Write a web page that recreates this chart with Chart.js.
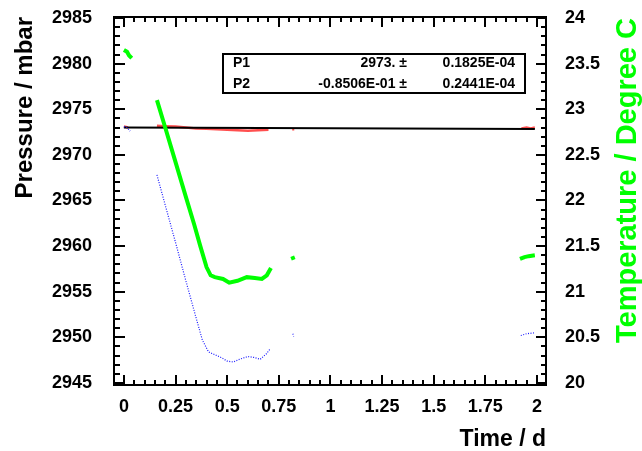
<!DOCTYPE html>
<html>
<head>
<meta charset="utf-8">
<script src="https://cdn.jsdelivr.net/npm/chart.js@4.4.1/dist/chart.umd.min.js"></script>
<style>
  body { margin: 0; background: #fff; }
  canvas { display: block; }
</style>
</head>
<body>
<canvas id="myChart" width="642" height="451"></canvas>
<script>
'use strict';

// tick labels
const timeTicks = [0, 0.25, 0.5, 0.75, 1, 1.25, 1.5, 1.75, 2];
const pressureTicks = [2945, 2950, 2955, 2960, 2965, 2970, 2975, 2980, 2985];
const tempTicks = [20, 20.5, 21, 21.5, 22, 22.5, 23, 23.5, 24];

// temperature (green, right axis) - null = gap in the record
const tempTimes = [0, 0.015, 0.025, 0.038, 0.1,
  0.16, 0.2, 0.25, 0.3, 0.34, 0.37, 0.40, 0.42, 0.44, 0.48, 0.51, 0.55, 0.595, 0.634, 0.668, 0.692, 0.712, 0.76,
  0.815, 0.822, 1.4,
  1.918, 1.94, 1.96, 1.99];
const tempValues = [23.65, 23.63, 23.59, 23.56, null,
  23.10, 22.80, 22.42, 22.04, 21.74, 21.50, 21.27, 21.18, 21.16, 21.14, 21.10, 21.12, 21.16, 21.15, 21.14, 21.18, 21.26, null,
  21.39, 21.35, null,
  21.36, 21.38, 21.39, 21.40];

// raw pressure (blue, left axis)
const rawTimes = [0, 0.015, 0.03, 0.1,
  0.16, 0.2, 0.25, 0.3, 0.35, 0.38, 0.41, 0.44, 0.47, 0.5, 0.53, 0.56, 0.6, 0.63, 0.66, 0.69, 0.71, 0.76,
  0.818, 0.822, 1.4,
  1.922, 1.95, 1.99];
const rawPressure = [2973.1, 2973.0, 2972.6, null,
  2967.8, 2964.5, 2960.4, 2956.2, 2952.1, 2949.7, 2948.4, 2948.1, 2947.8, 2947.4, 2947.3, 2947.6, 2947.9, 2947.8, 2947.6, 2948.2, 2948.8, null,
  2950.4, 2950.1, null,
  2950.2, 2950.4, 2950.5];

// temperature corrected pressure (red, left axis)
const corrTimes = [0, 0.02, 0.1,
  0.16, 0.2, 0.25, 0.3, 0.35, 0.4, 0.45, 0.5, 0.55, 0.6, 0.65, 0.7, 0.76,
  0.815, 0.825, 1.4,
  1.925, 1.95, 1.97, 1.99];
const corrPressure = [2973.1, 2973.0, null,
  2973.2, 2973.15, 2973.1, 2973.0, 2972.9, 2972.85, 2972.8, 2972.75, 2972.7, 2972.65, 2972.7, 2972.75, null,
  2972.8, 2972.8, null,
  2972.9, 2973.0, 2972.9, 2973.0];

// linear fit
const fitTimes = [0, 1.99];
const fitPressure = [2973.0, 2972.83];

// fit box
const paramNames = ['P1', 'P2'];
const paramValues = ['2973.', '-0.8506E-01'];
const paramErrors = ['0.1825E-04', '0.2441E-04'];

const FONT = "'Liberation Sans', Arial, Helvetica, sans-serif";
Chart.defaults.font.family = FONT;
Chart.defaults.color = '#000';

function toPoints(xs, ys) {
  return xs.map((x, i) => ({ x: x, y: ys[i] }));
}

function setTicks(list) {
  return function (scale) {
    scale.ticks = list.map(v => ({ value: v }));
  };
}

// keep the plot frame where the reference has it
function fixWidth(w) {
  return function (s) {
    s.width = w;
    s.paddingTop = 0;
    s.paddingBottom = 0;
  };
}

// frame, inward ticks, right title and fit box
const framePlugin = {
  id: 'frame',
  afterDraw(chart) {
    const ctx = chart.ctx;
    const a = chart.chartArea;
    const sx = chart.scales.x;
    const sy = chart.scales.y;
    const sy1 = chart.scales.y1;
    ctx.save();
    ctx.strokeStyle = '#000';
    ctx.lineWidth = 2;
    ctx.strokeRect(a.left, a.top, a.right - a.left, a.bottom - a.top);

    ctx.beginPath();
    // time axis, bottom and top
    for (let i = 0; i <= 40; i++) {
      const px = Math.round(sx.getPixelForValue(i * 0.05));
      const len = i % 5 === 0 ? 10 : 5;
      ctx.moveTo(px, a.bottom); ctx.lineTo(px, a.bottom - len);
      ctx.moveTo(px, a.top); ctx.lineTo(px, a.top + len);
    }
    // pressure axis
    for (let p = 2945; p <= 2985; p++) {
      const py = Math.round(sy.getPixelForValue(p));
      const len = p % 5 === 0 ? 11 : 6;
      ctx.moveTo(a.left, py); ctx.lineTo(a.left + len, py);
    }
    // temperature axis
    for (let i = 0; i <= 40; i++) {
      const py = Math.round(sy1.getPixelForValue(20 + i * 0.1));
      const len = i % 5 === 0 ? 10 : 5;
      ctx.moveTo(a.right, py); ctx.lineTo(a.right - len, py);
    }
    ctx.stroke();

    // right axis title, reads bottom to top
    ctx.translate(628, 18);
    ctx.rotate(-Math.PI / 2);
    ctx.fillStyle = '#00ff00';
    ctx.font = 'bold 29px ' + FONT;
    ctx.textAlign = 'right';
    ctx.textBaseline = 'middle';
    ctx.fillText('Temperature / Degree C', 0, 0);
    ctx.restore();

    // fit parameter box
    ctx.save();
    ctx.fillStyle = '#fff';
    ctx.fillRect(223, 54, 302, 39);
    ctx.strokeStyle = '#000';
    ctx.lineWidth = 2;
    ctx.strokeRect(223, 54, 302, 39);
    ctx.fillStyle = '#000';
    ctx.font = 'bold 14px ' + FONT;
    ctx.textBaseline = 'middle';
    for (let i = 0; i < paramNames.length; i++) {
      const y = 63 + i * 21;
      ctx.textAlign = 'left';
      ctx.fillText(paramNames[i], 233, y);
      ctx.textAlign = 'right';
      ctx.fillText(paramValues[i] + ' \u00b1', 407, y);
      ctx.fillText(paramErrors[i], 515, y);
    }
    ctx.restore();
  }
};

const chartCanvas = document.getElementById('myChart');

new Chart(chartCanvas, {
  type: 'scatter',
  data: {
    datasets: [{
      label: 'Temperature',
      data: toPoints(tempTimes, tempValues),
      yAxisID: 'y1',
      showLine: true,
      borderColor: '#00ff00',
      borderWidth: 4,
      pointRadius: 0
    }, {
      label: 'Pressure',
      data: toPoints(rawTimes, rawPressure),
      yAxisID: 'y',
      showLine: true,
      borderColor: '#1a1aff',
      borderWidth: 1.2,
      borderDash: [1, 1.5],
      pointRadius: 0
    }, {
      label: 'Fit',
      data: toPoints(fitTimes, fitPressure),
      yAxisID: 'y',
      showLine: true,
      borderColor: '#000',
      borderWidth: 2,
      pointRadius: 0
    }, {
      label: 'Corrected pressure',
      data: toPoints(corrTimes, corrPressure),
      yAxisID: 'y',
      showLine: true,
      borderColor: 'rgba(255,20,20,0.75)',
      borderWidth: 2.5,
      pointRadius: 0
    }]
  },
  options: {
    responsive: false,
    animation: false,
    devicePixelRatio: 1,
    spanGaps: false,
    layout: { padding: { top: 17, left: 0, right: 0, bottom: 0 } },
    plugins: {
      legend: { display: false },
      tooltip: { enabled: false }
    },
    scales: {
      x: {
        type: 'linear',
        position: 'bottom',
        min: -0.048,
        max: 2.044,
        afterBuildTicks: setTicks(timeTicks),
        afterFit: function (s) {
          s.height = 66;
          s.paddingLeft = 0;
          s.paddingRight = 0;
        },
        grid: { display: false, drawTicks: false },
        border: { display: false },
        ticks: {
          padding: 11,
          maxRotation: 0,
          autoSkip: false,
          font: { size: 18, weight: 'bold' },
          callback: v => String(v)
        },
        title: {
          display: true,
          text: 'Time / d',
          align: 'end',
          padding: 0,
          font: { size: 23, weight: 'bold', lineHeight: 1 }
        }
      },
      y: {
        type: 'linear',
        position: 'left',
        min: 2944.78,
        max: 2985.11,
        afterBuildTicks: setTicks(pressureTicks),
        afterFit: fixWidth(114),
        grid: { display: false, drawTicks: false },
        border: { display: false },
        ticks: {
          padding: 22,
          autoSkip: false,
          font: { size: 18, weight: 'bold' },
          callback: v => String(v)
        },
        title: {
          display: true,
          text: 'Pressure / mbar',
          align: 'end',
          padding: { top: 13, bottom: 0 },
          font: { size: 24, weight: 'bold', lineHeight: 1 }
        }
      },
      y1: {
        type: 'linear',
        position: 'right',
        min: 19.978,
        max: 24.011,
        afterBuildTicks: setTicks(tempTicks),
        afterFit: fixWidth(96),
        grid: { display: false, drawTicks: false },
        border: { display: false },
        ticks: {
          padding: 19,
          autoSkip: false,
          font: { size: 18, weight: 'bold' },
          callback: v => String(v)
        }
      }
    }
  },
  plugins: [framePlugin]
});
</script>
</body>
</html>
